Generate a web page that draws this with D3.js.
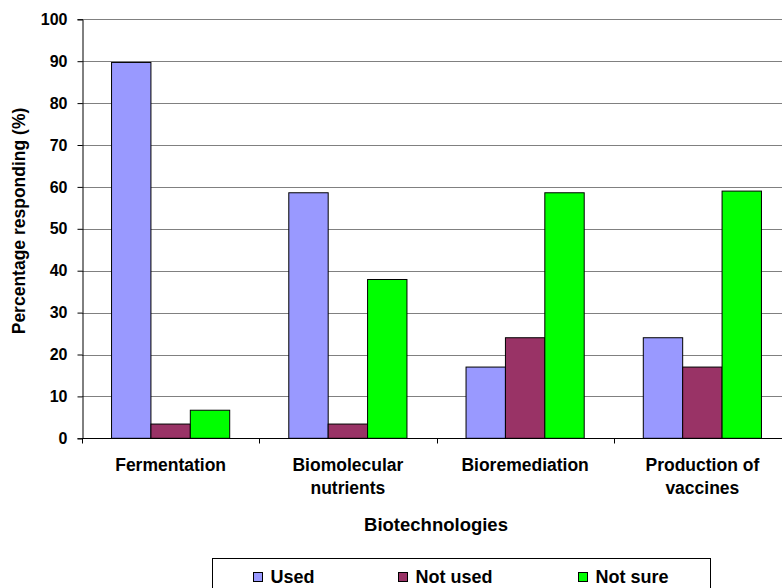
<!DOCTYPE html>
<html>
<head>
<meta charset="utf-8">
<script src="https://cdn.jsdelivr.net/npm/d3@7/dist/d3.min.js"></script>
<style>
  html, body { margin: 0; padding: 0; background: #fff; }
  svg { display: block; }
  text { font-family: "Liberation Sans", Arial, sans-serif; font-weight: bold; fill: #000; }
</style>
</head>
<body>
<svg id="chart" width="782" height="588"></svg>
<script>
// Survey responses on awareness of biotechnologies (percent of respondents)
const categories = [["Fermentation"], ["Biomolecular", "nutrients"], ["Bioremediation"], ["Production of", "vaccines"]];
const seriesNames = ["Used", "Not used", "Not sure"];
const seriesColors = ["#9999ff", "#993366", "#00ff00"];
const usedValues = [89.7, 58.6, 17.0, 24.0];
const notUsedValues = [3.4, 3.4, 24.0, 17.0];
const notSureValues = [6.7, 37.9, 58.6, 59.0];
const yTicks = [0, 10, 20, 30, 40, 50, 60, 70, 80, 90, 100];
const xTitle = "Biotechnologies";
const yTitle = "Percentage responding (%)";

const series = [usedValues, notUsedValues, notSureValues];

const svg = d3.select("#chart");
const plot = { left: 82, right: 791, top: 19.3, bottom: 438.3 };

const x0 = d3.scaleBand()
  .domain(d3.range(categories.length))
  .range([plot.left, plot.right])
  .paddingInner(0).paddingOuter(0);

// 150% gap: three bars share 1/1.5 of each category slot
const x1 = d3.scaleBand()
  .domain(d3.range(series.length))
  .range([0, x0.bandwidth()])
  .paddingInner(0)
  .paddingOuter(0.75);

const y = d3.scaleLinear().domain([0, 100]).range([plot.bottom, plot.top]);

// horizontal gridlines
svg.append("g")
  .selectAll("line")
  .data(yTicks.filter(d => d > 0))
  .join("line")
  .attr("x1", plot.left).attr("x2", plot.right)
  .attr("y1", d => Math.round(y(d)) + 0.5).attr("y2", d => Math.round(y(d)) + 0.5)
  .attr("stroke", "#808080").attr("stroke-width", 1);

// bars
const groups = svg.append("g")
  .selectAll("g")
  .data(categories)
  .join("g")
  .attr("transform", (d, i) => `translate(${x0(i)},0)`);

groups.selectAll("rect")
  .data((d, i) => series.map((s, k) => ({ k, v: s[i] })))
  .join("rect")
  .attr("x", d => x1(d.k))
  .attr("y", d => y(d.v))
  .attr("width", x1.bandwidth())
  .attr("height", d => y(0) - y(d.v))
  .attr("fill", d => seriesColors[d.k])
  .attr("stroke", "#000")
  .attr("stroke-width", 1);

// y axis
const yAxis = svg.append("g")
  .attr("transform", `translate(${plot.left + 0.5},0)`)
  .call(d3.axisLeft(y).tickValues(yTicks).tickSize(5).tickPadding(10));
yAxis.select(".domain").attr("stroke", "#000");
yAxis.selectAll(".tick line").attr("stroke", "#000");
yAxis.selectAll(".tick text")
  .style("font-size", "16px").style("font-weight", "bold")
  .style("font-family", "'Liberation Sans', Arial, sans-serif");

// x axis line and category ticks
const xAxis = svg.append("g")
  .attr("transform", `translate(0,${Math.round(plot.bottom) + 0.5})`);
xAxis.append("line")
  .attr("x1", plot.left).attr("x2", plot.right)
  .attr("stroke", "#000");
xAxis.selectAll("line.tk")
  .data(d3.range(categories.length + 1))
  .join("line")
  .attr("class", "tk")
  .attr("x1", i => Math.round(plot.left + i * x0.bandwidth()) + 0.5)
  .attr("x2", i => Math.round(plot.left + i * x0.bandwidth()) + 0.5)
  .attr("y1", 0).attr("y2", 5)
  .attr("stroke", "#000");

// category labels
const catLabels = svg.append("g")
  .selectAll("text")
  .data(categories)
  .join("text")
  .attr("x", (d, i) => x0(i) + x0.bandwidth() / 2)
  .attr("y", 471)
  .attr("text-anchor", "middle")
  .style("font-size", "17.5px");
catLabels.selectAll("tspan")
  .data(d => d)
  .join("tspan")
  .attr("x", function () { return this.parentNode.getAttribute("x"); })
  .attr("dy", (d, j) => j === 0 ? 0 : 23)
  .text(d => d);

// axis titles
svg.append("text")
  .attr("x", (plot.left + 782) / 2 + 4)
  .attr("y", 531)
  .attr("text-anchor", "middle")
  .style("font-size", "18.5px")
  .text(xTitle);

svg.append("text")
  .attr("transform", "translate(25,221) rotate(-90)")
  .attr("text-anchor", "middle")
  .style("font-size", "17.5px")
  .text(yTitle);

// legend
const legend = svg.append("g");
legend.append("rect")
  .attr("x", 212.5).attr("y", 558.5)
  .attr("width", 498).attr("height", 40)
  .attr("fill", "#fff").attr("stroke", "#000");
const legendX = [253, 398, 578];
const items = legend.selectAll("g")
  .data(seriesNames)
  .join("g")
  .attr("transform", (d, i) => `translate(${legendX[i]},0)`);
items.append("rect")
  .attr("x", 0.5).attr("y", 572.5)
  .attr("width", 9).attr("height", 9)
  .attr("fill", (d, i) => seriesColors[i])
  .attr("stroke", "#000");
items.append("text")
  .attr("x", 17.5).attr("y", 583)
  .style("font-size", "18px")
  .text(d => d);
</script>
</body>
</html>
